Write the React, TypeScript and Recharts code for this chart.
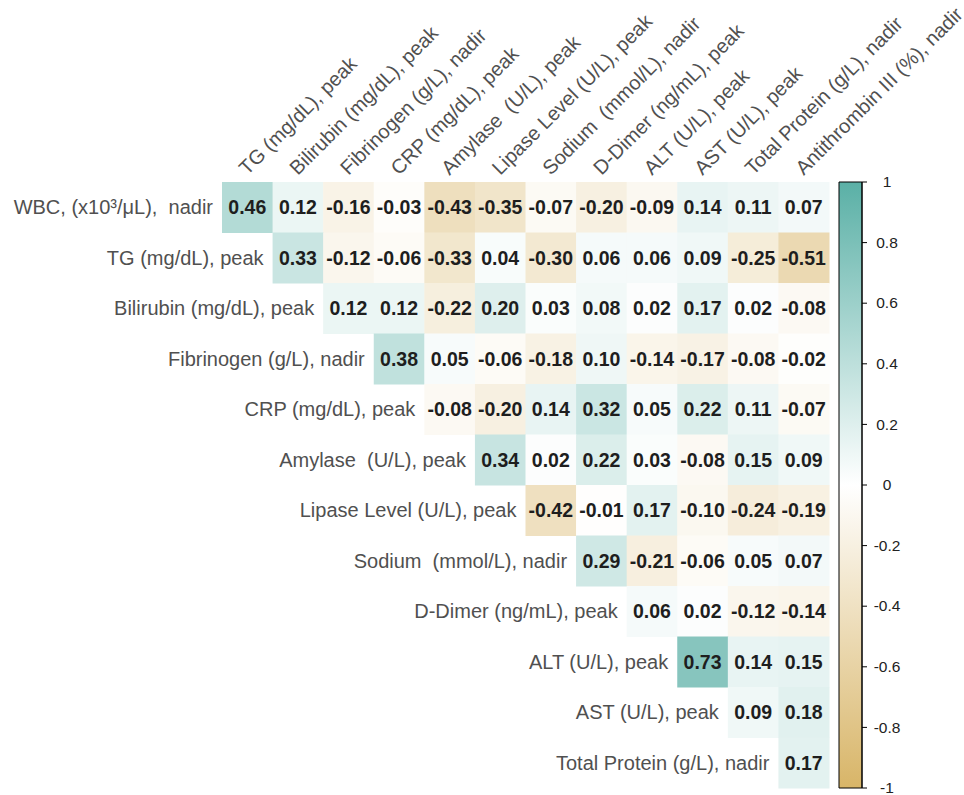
import { ScatterChart, Scatter, XAxis, YAxis, BarChart, Bar } from 'recharts';

// column variables (top labels)
const COLUMNS = [
  'TG (mg/dL), peak',
  'Bilirubin (mg/dL), peak',
  'Fibrinogen (g/L), nadir',
  'CRP (mg/dL), peak',
  'Amylase  (U/L), peak',
  'Lipase Level (U/L), peak',
  'Sodium  (mmol/L), nadir',
  'D-Dimer (ng/mL), peak',
  'ALT (U/L), peak',
  'AST (U/L), peak',
  'Total Protein (g/L), nadir',
  'Antithrombin III (%), nadir',
];

// row variables (left labels)
const ROWS = [
  'WBC, (x10³/μL),  nadir',
  'TG (mg/dL), peak',
  'Bilirubin (mg/dL), peak',
  'Fibrinogen (g/L), nadir',
  'CRP (mg/dL), peak',
  'Amylase  (U/L), peak',
  'Lipase Level (U/L), peak',
  'Sodium  (mmol/L), nadir',
  'D-Dimer (ng/mL), peak',
  'ALT (U/L), peak',
  'AST (U/L), peak',
  'Total Protein (g/L), nadir',
];

// each row starts at the column with the same index (upper triangle)
const R_WBC = [0.46, 0.12, -0.16, -0.03, -0.43, -0.35, -0.07, -0.2, -0.09, 0.14, 0.11, 0.07];
const R_TG = [0.33, -0.12, -0.06, -0.33, 0.04, -0.3, 0.06, 0.06, 0.09, -0.25, -0.51];
const R_BILI = [0.12, 0.12, -0.22, 0.2, 0.03, 0.08, 0.02, 0.17, 0.02, -0.08];
const R_FIB = [0.38, 0.05, -0.06, -0.18, 0.1, -0.14, -0.17, -0.08, -0.02];
const R_CRP = [-0.08, -0.2, 0.14, 0.32, 0.05, 0.22, 0.11, -0.07];
const R_AMY = [0.34, 0.02, 0.22, 0.03, -0.08, 0.15, 0.09];
const R_LIP = [-0.42, -0.01, 0.17, -0.1, -0.24, -0.19];
const R_NA = [0.29, -0.21, -0.06, 0.05, 0.07];
const R_DDIM = [0.06, 0.02, -0.12, -0.14];
const R_ALT = [0.73, 0.14, 0.15];
const R_AST = [0.09, 0.18];
const R_TP = [0.17];
const ROW_VALUES = [R_WBC, R_TG, R_BILI, R_FIB, R_CRP, R_AMY, R_LIP, R_NA, R_DDIM, R_ALT, R_AST, R_TP];

const COLORBAR_TICKS = [1, 0.8, 0.6, 0.4, 0.2, 0, -0.2, -0.4, -0.6, -0.8, -1];

const WIDTH = 964;
const HEIGHT = 795;
const LEFT = 222;
const TOP = 182;
const RIGHT = 135;
const BOTTOM = 7;
const N = COLUMNS.length;
const CELL_W = (WIDTH - LEFT - RIGHT) / N;
const CELL_H = (HEIGHT - TOP - BOTTOM) / N;
const FONT = '"Liberation Sans", Arial, sans-serif';
const LABEL_ANGLE = -45;

const POS: [number, number, number] = [90, 176, 166];
const NEG: [number, number, number] = [216, 181, 104];

function cellColor(v: number) {
  const target = v >= 0 ? POS : NEG;
  const t = Math.min(1, Math.abs(v));
  const c = target.map((ch) => Math.round(255 + (ch - 255) * t));
  return `rgb(${c[0]},${c[1]},${c[2]})`;
}

const cells = ROW_VALUES.flatMap((vals, r) =>
  vals.map((v, k) => ({ x: r + k + 0.5, y: r + 0.5, v, row: r, col: r + k }))
);

const centers = COLUMNS.map((_, i) => i + 0.5);

function CellShape(props: any) {
  const { cx, cy, payload } = props;
  if (cx == null || cy == null) return null;
  return (
    <g>
      <rect
        x={cx - CELL_W / 2}
        y={cy - CELL_H / 2}
        width={CELL_W + 0.5}
        height={CELL_H + 0.5}
        fill={cellColor(payload.v)}
      />
      <text
        x={cx}
        y={cy}
        dy="0.36em"
        textAnchor="middle"
        fontFamily={FONT}
        fontSize={19.5}
        fontWeight="bold"
        fill="#1e1e1e"
      >
        {payload.v.toFixed(2)}
      </text>
    </g>
  );
}

function ColumnTick(props: any) {
  const { x, y, payload } = props;
  const i = Math.floor(payload.value);
  const ax = x;
  const ay = y - 6;
  return (
    <text
      x={ax}
      y={ay}
      transform={`rotate(${LABEL_ANGLE} ${ax} ${ay})`}
      textAnchor="start"
      fontFamily={FONT}
      fontSize={20}
      fill="#505050"
      style={{ whiteSpace: 'pre' }}
    >
      {COLUMNS[i]}
    </text>
  );
}

function RowTick(props: any) {
  const { x, y, payload } = props;
  const i = Math.floor(payload.value);
  const tx = x + i * CELL_W - 9;
  return (
    <text
      x={tx}
      y={y}
      dy="0.36em"
      textAnchor="end"
      fontFamily={FONT}
      fontSize={20}
      fill="#505050"
      style={{ whiteSpace: 'pre' }}
    >
      {ROWS[i]}
    </text>
  );
}

function BarTick(props: any) {
  const { x, y, payload } = props;
  return (
    <text
      x={x + 18}
      y={y}
      dy="0.34em"
      textAnchor="middle"
      fontFamily={FONT}
      fontSize={15.5}
      fill="#222"
    >
      {payload.value}
    </text>
  );
}

const colorbarData = [{ name: 'r', range: [-1, 1] }];

export default function App() {
  return (
    <div style={{ position: 'absolute', left: 0, top: 0, width: WIDTH, height: HEIGHT, background: '#fff' }}>
      <div style={{ position: 'absolute', left: 0, top: 0 }}>
        <ScatterChart
          width={WIDTH}
          height={HEIGHT}
          margin={{ top: 0, right: RIGHT, bottom: BOTTOM, left: 0 }}
        >
          <XAxis
            type="number"
            dataKey="x"
            orientation="top"
            domain={[0, N]}
            ticks={centers}
            interval={0}
            height={TOP}
            axisLine={false}
            tickLine={false}
            tickSize={0}
            tickMargin={0}
            tick={<ColumnTick />}
          />
          <YAxis
            type="number"
            dataKey="y"
            domain={[0, N]}
            reversed
            ticks={centers}
            interval={0}
            width={LEFT}
            axisLine={false}
            tickLine={false}
            tickSize={0}
            tickMargin={0}
            tick={<RowTick />}
          />
          <Scatter data={cells} shape={<CellShape />} isAnimationActive={false} />
        </ScatterChart>
      </div>
      <div style={{ position: 'absolute', left: 830, top: 0 }}>
        <BarChart
          width={134}
          height={HEIGHT}
          data={colorbarData}
          margin={{ top: TOP, right: 0, bottom: BOTTOM, left: 9 }}
          barCategoryGap={0}
        >
          <defs>
            <linearGradient id="cbar" x1="0" y1="0" x2="0" y2="1">
              <stop offset="0%" stopColor={cellColor(1)} />
              <stop offset="50%" stopColor="#ffffff" />
              <stop offset="100%" stopColor={cellColor(-1)} />
            </linearGradient>
          </defs>
          <XAxis dataKey="name" hide />
          <YAxis
            orientation="right"
            type="number"
            domain={[-1, 1]}
            ticks={COLORBAR_TICKS}
            interval={0}
            width={102}
            axisLine={{ stroke: '#000' }}
            tickLine={{ stroke: '#000' }}
            tickSize={5}
            tick={<BarTick />}
          />
          <Bar
            dataKey="range"
            fill="url(#cbar)"
            stroke="#000"
            strokeWidth={1}
            isAnimationActive={false}
          />
        </BarChart>
      </div>
    </div>
  );
}
